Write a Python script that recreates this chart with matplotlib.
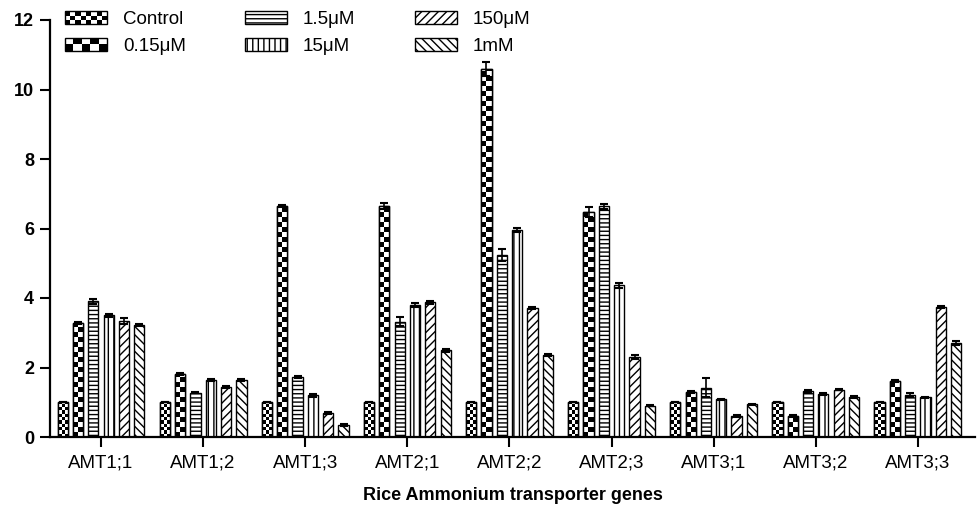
import numpy as np
import matplotlib.pyplot as plt
from matplotlib.patches import Rectangle
from matplotlib.legend_handler import HandlerBase

plt.rcParams['font.family'] = ['Liberation Sans', 'DejaVu Sans']
plt.rcParams['hatch.linewidth'] = 1.0

# データ
genes = ["AMT1;1", "AMT1;2", "AMT1;3", "AMT2;1", "AMT2;2",
         "AMT2;3", "AMT3;1", "AMT3;2", "AMT3;3"]
treatments = ["Control", "0.15μM", "1.5μM", "15μM", "150μM", "1mM"]

control = [1.0, 1.0, 1.0, 1.0, 1.0, 1.0, 1.0, 1.0, 1.0]
c_015uM = [3.28, 1.80, 6.65, 6.65, 10.60, 6.48, 1.29, 0.60, 1.62]
c_15uM_low = [3.90, 1.28, 1.72, 3.32, 5.24, 6.64, 1.42, 1.32, 1.21]
c_15uM = [3.50, 1.65, 1.20, 3.79, 5.95, 4.36, 1.08, 1.24, 1.14]
c_150uM = [3.34, 1.45, 0.70, 3.88, 3.70, 2.30, 0.60, 1.36, 3.75]
c_1mM = [3.22, 1.63, 0.35, 2.49, 2.36, 0.90, 0.94, 1.16, 2.70]

err_control = [0, 0, 0, 0, 0, 0, 0, 0, 0]
err_015uM = [0.04, 0.03, 0.03, 0.08, 0.20, 0.15, 0.03, 0.02, 0.03]
err_15uM_low = [0.07, 0.02, 0.03, 0.14, 0.17, 0.07, 0.28, 0.04, 0.06]
err_15uM = [0.05, 0.03, 0.05, 0.06, 0.06, 0.06, 0.02, 0.02, 0.02]
err_150uM = [0.08, 0.03, 0.03, 0.04, 0.03, 0.06, 0.02, 0.02, 0.03]
err_1mM = [0.04, 0.03, 0.02, 0.04, 0.02, 0.02, 0.02, 0.03, 0.06]

values = [control, c_015uM, c_15uM_low, c_15uM, c_150uM, c_1mM]
errors = [err_control, err_015uM, err_15uM_low, err_15uM, err_150uM, err_1mM]

# 模様 (None はチェック柄)
hatches = [None, None, "----", "|||", "////", "\\\\\\\\"]
checker_cols = {0: 3, 1: 2}
checker_cell_px = {0: 3.3, 1: 5.0}


class HandlerChecker(HandlerBase):
    def __init__(self, ncol, nrow):
        super().__init__()
        self.ncol = ncol
        self.nrow = nrow

    def create_artists(self, legend, orig_handle, xdescent, ydescent,
                       width, height, fontsize, trans):
        arts = []
        cw = width / self.ncol
        ch = height / self.nrow
        for i in range(self.ncol):
            for j in range(self.nrow):
                col = "black" if (i + j) % 2 == 0 else "white"
                arts.append(Rectangle((-xdescent + i * cw, -ydescent + j * ch), cw, ch,
                                      facecolor=col, edgecolor="none", transform=trans))
        arts.append(Rectangle((-xdescent, -ydescent), width, height, facecolor="none",
                              edgecolor="black", lw=1.0, transform=trans))
        return arts


fig = plt.figure(figsize=(9.79, 5.07), dpi=100)
ax = fig.add_axes([50 / 979, 70 / 507, 925 / 979, 417 / 507])

x = np.arange(len(genes))
step = 0.15
width = 0.1
px_per_unit = 417 / 12

handles = []
for k, (vals, errs) in enumerate(zip(values, errors)):
    pos = x + (k - 2.5) * step
    bars = ax.bar(pos, vals, width, facecolor="white", edgecolor="black",
                  linewidth=1.0, hatch=hatches[k], zorder=2)
    ax.errorbar(pos, vals, yerr=errs, fmt="none", ecolor="black",
                elinewidth=1.2, capsize=3, capthick=1.5, zorder=4)
    if k in checker_cols:
        nc = checker_cols[k]
        cell = checker_cell_px[k] / px_per_unit
        for b in bars:
            h = b.get_height()
            nr = max(1, int(round(h / cell)))
            img = (np.add.outer(np.arange(nr), np.arange(nc)) % 2).astype(float)
            im = ax.imshow(img, cmap="gray", vmin=0, vmax=1, aspect="auto",
                           interpolation="nearest", origin="lower",
                           extent=(b.get_x(), b.get_x() + b.get_width(), 0, nr * cell),
                           zorder=2.5)
            im.set_clip_path(b)
            ax.add_patch(Rectangle((b.get_x(), 0), b.get_width(), h, facecolor="none",
                                   edgecolor="black", lw=1.0, zorder=3))
    handles.append(Rectangle((0, 0), 1, 1, facecolor="white", edgecolor="black",
                             lw=1.0, hatch=hatches[k]))

ax.set_xlim(-0.5, 8.56)
ax.set_ylim(0, 12)
ax.set_yticks(range(0, 13, 2))
ax.set_xticks(x)
ax.set_xticklabels(genes, fontsize=13.5)
for t in ax.get_yticklabels():
    t.set_fontweight("bold")
    t.set_fontsize(13)
ax.tick_params(axis="both", direction="out", length=7.5, width=1.5)
ax.tick_params(axis="x", pad=5)
ax.tick_params(axis="y", pad=4)
for s in ["top", "right"]:
    ax.spines[s].set_visible(False)
for s in ["left", "bottom"]:
    ax.spines[s].set_linewidth(1.6)
ax.set_xlabel("Rice Ammonium transporter genes", fontsize=13, fontweight="bold", labelpad=11)

leg = fig.legend(handles, treatments, loc="upper left", bbox_to_anchor=(48 / 979, 1.011),
                 ncol=3, frameon=False, fontsize=13.5, handlelength=2.25,
                 handleheight=0.7, handletextpad=0.85, columnspacing=3.15,
                 labelspacing=0.5,
                 handler_map={handles[0]: HandlerChecker(8, 3),
                              handles[1]: HandlerChecker(5, 2)})

fig.savefig("out.png", dpi=100)
